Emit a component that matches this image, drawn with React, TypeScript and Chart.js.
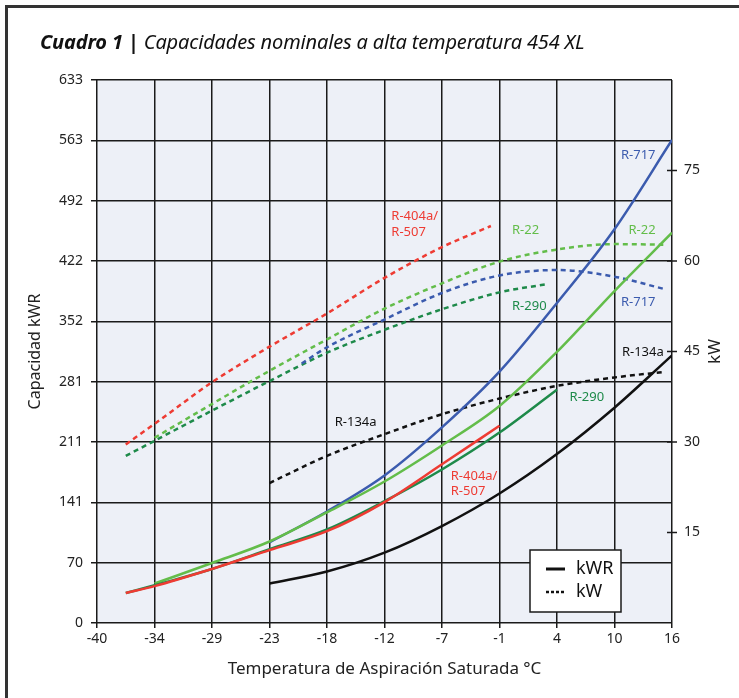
import React, { useEffect, useRef } from "react";
import { Chart, registerables } from "chart.js";

Chart.register(...registerables);

// ---- axis ticks ----
const X_TICK_VALUES = [-40, -34.44, -28.89, -23.33, -17.78, -12.22, -6.67, -1.11, 4.44, 10, 15.56];
const X_TICK_LABELS = ["-40", "-34", "-29", "-23", "-18", "-12", "-7", "-1", "4", "10", "16"];
const KWR_TICK_VALUES = [0, 70.33, 140.67, 211, 281.33, 351.67, 422, 492.33, 562.67, 633];
const KWR_TICK_LABELS = ["0", "70", "141", "211", "281", "352", "422", "492", "563", "633"];
const KW_TICK_VALUES = [15, 30, 45, 60, 75];
const KW_TICK_LABELS = ["15", "30", "45", "60", "75"];

// ---- capacity (kWR), solid lines ----
const R404_KWR_T = [-37.22, -34.44, -28.89, -23.33, -17.78, -12.22, -6.67, -1.11];
const R404_KWR = [35, 43, 63, 85, 107, 141, 185, 230];

const R290_KWR_T = [-37.22, -34.44, -28.89, -23.33, -17.78, -12.22, -6.67, -1.11, 4.44];
const R290_KWR = [35, 44, 63, 86, 109, 142, 179, 222, 272];

const R22_KWR_T = [-34.44, -28.89, -23.33, -17.78, -12.22, -6.67, -1.11, 4.44, 10, 15.56];
const R22_KWR = [46, 70, 95, 129, 165, 207, 253, 316, 387, 455];

const R717_KWR_T = [-23.33, -17.78, -12.22, -6.67, -1.11, 4.44, 10, 15.56];
const R717_KWR = [94, 130, 172, 228, 293, 373, 459, 563];

const R134A_KWR_T = [-23.33, -17.78, -12.22, -6.67, -1.11, 4.44, 10, 15.56];
const R134A_KWR = [46, 60, 82, 113, 151, 197, 251, 312];

// ---- power (kW), dashed lines ----
const R404_KW_T = [-37.22, -34.44, -28.89, -23.33, -17.78, -12.22, -6.67, -1.94];
const R404_KW = [29.6, 33.0, 39.9, 45.8, 51.3, 57.2, 62.3, 65.8];

const R22_KW_T = [-34.44, -28.89, -23.33, -17.78, -12.22, -6.67, -1.11, 4.44, 10, 14.72];
const R22_KW = [30.7, 36.3, 41.8, 47.0, 52.1, 56.3, 59.9, 61.9, 62.8, 62.7];

const R717_KW_T = [-20.22, -17.78, -12.22, -6.67, -1.11, 4.44, 10, 14.72];
const R717_KW = [43.0, 45.7, 50.3, 54.7, 57.6, 58.5, 57.4, 55.4];

const R290_KW_T = [-37.22, -34.44, -28.89, -23.33, -17.78, -12.22, -6.67, -1.11, 3.61];
const R290_KW = [27.7, 30.2, 35.2, 40.1, 44.8, 48.6, 52.0, 54.8, 56.2];

const R134A_KW_T = [-23.33, -17.78, -12.22, -6.67, -1.11, 4.44, 10, 14.72];
const R134A_KW = [23.2, 27.7, 31.3, 34.6, 37.2, 39.3, 40.7, 41.6];

// ---- colours ----
const RED = "#EE3B33";
const DGREEN = "#1E8A4A";
const LGREEN = "#63BD4A";
const BLUE = "#3B5BAE";
const BLACK = "#111111";
const TEXT = "#222222";
const GRID = "#1a1a1a";
const FONT = '"Noto Sans", "DejaVu Sans", sans-serif';

// ---- in-plot labels (anchored in data coords: °C, kWR) ----
const LABEL_TEXT = ["R-717", "R-22", "R-717", "R-134a", "R-290", "R-404a/", "R-507", "R-22", "R-290", "R-134a", "R-404a/", "R-507"];
const LABEL_COLOR = [BLUE, LGREEN, BLUE, BLACK, DGREEN, RED, RED, LGREEN, DGREEN, BLACK, RED, RED];
const LABEL_T = [10.63, 11.35, 10.63, 10.72, 5.66, -11.56, -11.56, 0.1, 0.1, -17.03, -5.82, -5.82];
const LABEL_V = [545.6, 457.5, 374.2, 315.3, 263.1, 473.6, 454.9, 457.8, 369.5, 233.8, 171.5, 153.2];

const pts = (t: number[], v: number[]) => t.map((x, i) => ({ x, y: v[i] }));

const solid = (label: string, t: number[], v: number[], color: string) => ({
  label,
  data: pts(t, v),
  yAxisID: "y",
  borderColor: color,
  backgroundColor: color,
  borderWidth: 2.5,
  pointRadius: 0,
  fill: false,
  cubicInterpolationMode: "monotone" as const,
});

const dashed = (label: string, t: number[], v: number[], color: string) => ({
  label,
  data: pts(t, v),
  yAxisID: "kw",
  borderColor: color,
  backgroundColor: color,
  borderWidth: 2.5,
  borderDash: [5, 4],
  pointRadius: 0,
  fill: false,
  cubicInterpolationMode: "monotone" as const,
});

const decorPlugin = {
  id: "decor",
  beforeDraw(chart: any) {
    const { ctx, chartArea: a } = chart;
    ctx.save();
    ctx.fillStyle = "#EDF0F7";
    ctx.fillRect(a.left, a.top, a.right - a.left, a.bottom - a.top);
    ctx.restore();
  },
  afterDraw(chart: any) {
    const { ctx, chartArea: a, scales } = chart;
    const xs = scales.x;
    const ys = scales.y;
    const ks = scales.kw;
    ctx.save();
    // right axis tick crosses
    ctx.strokeStyle = GRID;
    ctx.lineWidth = 1.5;
    KW_TICK_VALUES.forEach((v) => {
      const py = ks.getPixelForValue(v);
      ctx.beginPath();
      ctx.moveTo(a.right - 5, py);
      ctx.lineTo(a.right + 5, py);
      ctx.stroke();
    });
    // inline series labels
    ctx.font = `13px ${FONT}`;
    ctx.textAlign = "left";
    ctx.textBaseline = "middle";
    LABEL_TEXT.forEach((txt, i) => {
      ctx.fillStyle = LABEL_COLOR[i];
      ctx.fillText(txt, xs.getPixelForValue(LABEL_T[i]), ys.getPixelForValue(LABEL_V[i]));
    });
    // right axis title
    ctx.save();
    ctx.translate(chart.width - 24, (a.top + a.bottom) / 2);
    ctx.rotate(-Math.PI / 2);
    ctx.font = `17px ${FONT}`;
    ctx.fillStyle = TEXT;
    ctx.textAlign = "center";
    ctx.textBaseline = "middle";
    ctx.fillText("kW", 0, 0);
    ctx.restore();
    // legend box
    const bx = a.right - 142;
    const by = a.bottom - 73;
    const bw = 91;
    const bh = 62;
    ctx.fillStyle = "#ffffff";
    ctx.fillRect(bx, by, bw, bh);
    ctx.strokeStyle = GRID;
    ctx.lineWidth = 1.5;
    ctx.strokeRect(bx, by, bw, bh);
    ctx.strokeStyle = BLACK;
    ctx.lineWidth = 3;
    ctx.beginPath();
    ctx.moveTo(bx + 16, by + 19);
    ctx.lineTo(bx + 35, by + 19);
    ctx.stroke();
    ctx.setLineDash([3, 2]);
    ctx.lineWidth = 2.5;
    ctx.beginPath();
    ctx.moveTo(bx + 16, by + 42);
    ctx.lineTo(bx + 35, by + 42);
    ctx.stroke();
    ctx.setLineDash([]);
    ctx.fillStyle = BLACK;
    ctx.font = `18px ${FONT}`;
    ctx.textAlign = "left";
    ctx.textBaseline = "middle";
    ctx.fillText("kWR", bx + 46, by + 19);
    ctx.fillText("kW", bx + 46, by + 42);
    ctx.restore();
  },
};

export default function App() {
  const ref = useRef<HTMLCanvasElement | null>(null);

  useEffect(() => {
    document.body.style.margin = "0";
    document.body.style.overflow = "hidden";
    if (!ref.current) return;
    const chart = new Chart(ref.current, {
      type: "line",
      data: {
        datasets: [
          solid("R-404a/R-507 kWR", R404_KWR_T, R404_KWR, RED),
          solid("R-290 kWR", R290_KWR_T, R290_KWR, DGREEN),
          solid("R-22 kWR", R22_KWR_T, R22_KWR, LGREEN),
          solid("R-717 kWR", R717_KWR_T, R717_KWR, BLUE),
          solid("R-134a kWR", R134A_KWR_T, R134A_KWR, BLACK),
          dashed("R-404a/R-507 kW", R404_KW_T, R404_KW, RED),
          dashed("R-22 kW", R22_KW_T, R22_KW, LGREEN),
          dashed("R-717 kW", R717_KW_T, R717_KW, BLUE),
          dashed("R-290 kW", R290_KW_T, R290_KW, DGREEN),
          dashed("R-134a kW", R134A_KW_T, R134A_KW, BLACK),
        ] as any,
      },
      options: {
        responsive: false,
        animation: false,
        layout: { padding: { top: 80, left: 0, right: 0, bottom: 0 } },
        plugins: {
          legend: { display: false },
          tooltip: { enabled: false },
          title: { display: false },
        },
        scales: {
          x: {
            type: "linear",
            position: "bottom",
            min: -40,
            max: 15.56,
            afterBuildTicks: (s: any) => {
              s.ticks = X_TICK_VALUES.map((value) => ({ value }));
            },
            afterFit: (s: any) => {
              s.height = 75;
            },
            ticks: {
              autoSkip: false,
              maxRotation: 0,
              padding: 3,
              color: TEXT,
              font: { family: FONT, size: 14 },
              callback: (_v: any, i: number) => X_TICK_LABELS[i],
            },
            grid: { color: GRID, lineWidth: 1.5, tickLength: 5, drawTicks: true },
            border: { display: false },
            title: {
              display: true,
              text: "Temperatura de Aspiración Saturada °C",
              color: TEXT,
              font: { family: FONT, size: 17 },
              padding: { top: 0, bottom: 19 },
            },
          },
          y: {
            type: "linear",
            position: "left",
            min: 0,
            max: 633,
            afterBuildTicks: (s: any) => {
              s.ticks = KWR_TICK_VALUES.map((value) => ({ value }));
            },
            afterFit: (s: any) => {
              s.width = 97;
            },
            ticks: {
              autoSkip: false,
              padding: 8,
              color: TEXT,
              font: { family: FONT, size: 14 },
              callback: (_v: any, i: number) => KWR_TICK_LABELS[i],
            },
            grid: { color: GRID, lineWidth: 1.5, tickLength: 6, drawTicks: true },
            border: { display: false },
            title: {
              display: true,
              text: "Capacidad kWR",
              color: TEXT,
              font: { family: FONT, size: 16 },
              padding: { top: 26, bottom: 0 },
            },
          },
          kw: {
            type: "linear",
            position: "right",
            min: 0,
            max: 90,
            afterBuildTicks: (s: any) => {
              s.ticks = KW_TICK_VALUES.map((value) => ({ value }));
            },
            afterFit: (s: any) => {
              s.width = 67;
            },
            ticks: {
              autoSkip: false,
              padding: 12,
              color: TEXT,
              font: { family: FONT, size: 14 },
              callback: (_v: any, i: number) => KW_TICK_LABELS[i],
            },
            grid: { display: false, drawTicks: false },
            border: { display: false },
          },
        },
      } as any,
      plugins: [decorPlugin],
    });
    return () => chart.destroy();
  }, []);

  return (
    <div style={{ position: "relative", width: 739, height: 698, overflow: "hidden", background: "#fff" }}>
      <canvas ref={ref} width={739} height={698} style={{ position: "absolute", left: 0, top: 0, width: 739, height: 698 }} />
      <div
        style={{
          position: "absolute",
          left: 5,
          top: 5,
          width: 740,
          height: 700,
          borderTop: "3px solid #333",
          borderLeft: "3px solid #333",
          pointerEvents: "none",
        }}
      />
      <div
        style={{
          position: "absolute",
          left: 40,
          top: 32,
          fontFamily: FONT,
          fontSize: 20,
          lineHeight: "20px",
          color: "#111",
          whiteSpace: "nowrap",
          letterSpacing: "-0.15px",
        }}
      >
        <span style={{ fontWeight: 700, fontStyle: "italic" }}>Cuadro 1</span>
        <span style={{ fontWeight: 700 }}> | </span>
        <span style={{ fontStyle: "italic", fontWeight: 400 }}>Capacidades nominales a alta temperatura 454 XL</span>
      </div>
    </div>
  );
}
